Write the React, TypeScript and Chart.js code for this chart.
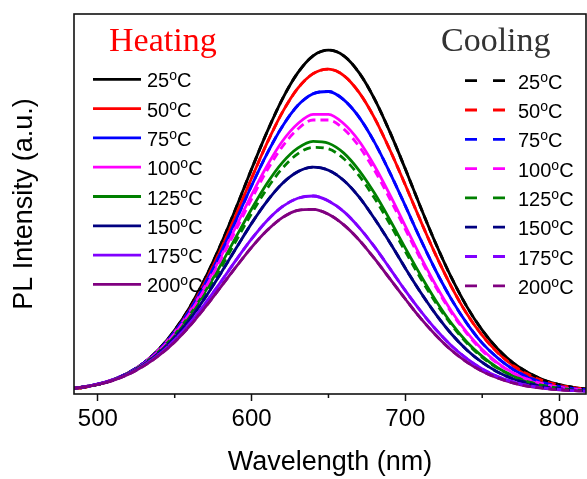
import React, { useEffect, useRef } from "react";
import { Chart, registerables } from "chart.js";

Chart.register(...registerables);

// Wavelength grid (nm)
const wavelengths = [
  480, 490, 500, 510, 520, 530, 540, 550, 560, 570, 580, 590, 600, 610, 620, 630, 640, 650,
  660, 670, 680, 690, 700, 710, 720, 730, 740, 750, 760, 770, 780, 790, 800, 810, 820,
];

const temperatures = ["25", "50", "75", "100", "125", "150", "175", "200"];
const colors = ["#000000", "#FF0000", "#0000FF", "#FF00FF", "#008000", "#000080", "#8000FF", "#800080"];

// Heating spectra (normalised PL intensity)
const heat25 = [0.012,0.017,0.025,0.037,0.056,0.082,0.119,0.168,0.230,0.306,0.394,0.491,0.592,0.689,0.776,0.845,0.890,0.905,0.890,0.845,0.776,0.689,0.592,0.491,0.394,0.306,0.230,0.168,0.119,0.082,0.056,0.037,0.025,0.017,0.012];
const heat50 = [0.012,0.017,0.025,0.037,0.055,0.081,0.117,0.164,0.224,0.297,0.381,0.473,0.568,0.660,0.741,0.804,0.843,0.855,0.838,0.793,0.726,0.642,0.550,0.455,0.364,0.282,0.211,0.154,0.109,0.075,0.051,0.034,0.023,0.016,0.012];
const heat75 = [0.013,0.018,0.025,0.038,0.056,0.082,0.117,0.164,0.222,0.292,0.372,0.459,0.548,0.632,0.704,0.759,0.790,0.796,0.774,0.728,0.662,0.582,0.495,0.406,0.323,0.249,0.186,0.134,0.095,0.065,0.044,0.030,0.020,0.014,0.011];
const heat100 = [0.013,0.018,0.026,0.038,0.056,0.082,0.117,0.162,0.218,0.285,0.361,0.442,0.524,0.600,0.665,0.711,0.736,0.736,0.711,0.665,0.600,0.524,0.442,0.361,0.285,0.218,0.162,0.117,0.082,0.056,0.038,0.026,0.018,0.013,0.010];
const heat125 = [0.013,0.018,0.026,0.038,0.055,0.080,0.113,0.156,0.209,0.271,0.340,0.414,0.487,0.554,0.609,0.647,0.665,0.660,0.634,0.588,0.528,0.458,0.384,0.312,0.245,0.186,0.137,0.099,0.069,0.048,0.032,0.022,0.016,0.012,0.009];
const heat150 = [0.013,0.018,0.026,0.037,0.054,0.077,0.109,0.149,0.198,0.255,0.318,0.384,0.449,0.507,0.554,0.585,0.597,0.589,0.562,0.518,0.461,0.398,0.331,0.267,0.209,0.158,0.116,0.083,0.058,0.040,0.028,0.019,0.014,0.010,0.008];
const heat175 = [0.013,0.018,0.026,0.037,0.053,0.076,0.105,0.143,0.187,0.239,0.295,0.353,0.408,0.456,0.493,0.515,0.521,0.508,0.480,0.438,0.387,0.330,0.272,0.218,0.169,0.127,0.093,0.066,0.046,0.032,0.022,0.016,0.012,0.009,0.008];
const heat200 = [0.013,0.018,0.025,0.036,0.052,0.074,0.102,0.137,0.180,0.229,0.282,0.335,0.386,0.430,0.464,0.483,0.486,0.473,0.445,0.405,0.356,0.303,0.250,0.199,0.154,0.115,0.084,0.060,0.042,0.029,0.020,0.015,0.011,0.009,0.008];

// Cooling spectra (dashed); most coincide with the heating curves
const cool25 = [0.012,0.017,0.025,0.037,0.056,0.082,0.119,0.168,0.230,0.306,0.394,0.491,0.592,0.689,0.776,0.845,0.890,0.905,0.890,0.845,0.776,0.689,0.592,0.491,0.394,0.306,0.230,0.168,0.119,0.082,0.056,0.037,0.025,0.017,0.012];
const cool50 = [0.012,0.017,0.025,0.037,0.055,0.081,0.117,0.164,0.224,0.297,0.381,0.473,0.568,0.660,0.741,0.804,0.843,0.855,0.838,0.793,0.726,0.642,0.550,0.455,0.364,0.282,0.211,0.154,0.109,0.075,0.051,0.034,0.023,0.016,0.012];
const cool75 = [0.013,0.018,0.025,0.038,0.056,0.082,0.117,0.164,0.222,0.292,0.372,0.459,0.548,0.632,0.704,0.759,0.790,0.796,0.774,0.728,0.662,0.582,0.495,0.406,0.323,0.249,0.186,0.134,0.095,0.065,0.044,0.030,0.020,0.014,0.011];
const cool100 = [0.013,0.018,0.026,0.038,0.055,0.080,0.114,0.159,0.214,0.280,0.354,0.433,0.513,0.588,0.651,0.697,0.721,0.721,0.697,0.651,0.588,0.513,0.433,0.354,0.280,0.214,0.159,0.114,0.080,0.055,0.038,0.026,0.018,0.013,0.010];
const cool125 = [0.013,0.018,0.025,0.037,0.054,0.078,0.110,0.152,0.204,0.264,0.332,0.404,0.475,0.540,0.594,0.632,0.649,0.645,0.619,0.574,0.515,0.447,0.375,0.304,0.239,0.182,0.134,0.096,0.068,0.047,0.032,0.022,0.015,0.011,0.009];
const cool150 = [0.013,0.018,0.026,0.037,0.054,0.077,0.109,0.149,0.198,0.255,0.318,0.384,0.449,0.507,0.554,0.585,0.597,0.589,0.562,0.518,0.461,0.398,0.331,0.267,0.209,0.158,0.116,0.083,0.058,0.040,0.028,0.019,0.014,0.010,0.008];
const cool175 = [0.013,0.018,0.026,0.037,0.053,0.076,0.105,0.143,0.187,0.239,0.295,0.353,0.408,0.456,0.493,0.515,0.521,0.508,0.480,0.438,0.387,0.330,0.272,0.218,0.169,0.127,0.093,0.066,0.046,0.032,0.022,0.016,0.012,0.009,0.008];
const cool200 = [0.013,0.018,0.025,0.036,0.052,0.074,0.102,0.137,0.180,0.229,0.282,0.335,0.386,0.430,0.464,0.483,0.486,0.473,0.445,0.405,0.356,0.303,0.250,0.199,0.154,0.115,0.084,0.060,0.042,0.029,0.020,0.015,0.011,0.009,0.008];

const heatingSeries = [heat25, heat50, heat75, heat100, heat125, heat150, heat175, heat200];
const coolingSeries = [cool25, cool50, cool75, cool100, cool125, cool150, cool175, cool200];

const xTickValues = [500, 550, 600, 650, 700, 750, 800];
const xLabelValues = [500, 600, 700, 800];

const SANS = "'Liberation Sans', Arial, sans-serif";
const SERIF = "'Liberation Serif', 'Times New Roman', serif";

function drawTempLabel(ctx: CanvasRenderingContext2D, t: string, x: number, baseline: number) {
  ctx.fillStyle = "#000";
  ctx.textAlign = "left";
  ctx.textBaseline = "alphabetic";
  ctx.font = `20px ${SANS}`;
  ctx.fillText(t, x, baseline);
  let cx = x + ctx.measureText(t).width;
  ctx.font = `14px ${SANS}`;
  ctx.fillText("o", cx, baseline - 7);
  cx += ctx.measureText("o").width;
  ctx.font = `20px ${SANS}`;
  ctx.fillText("C", cx, baseline);
}

const framePlugin = {
  id: "frameAndLegend",
  afterDatasetsDraw(chart: any) {
    const { ctx, chartArea } = chart;
    ctx.save();
    ctx.strokeStyle = "#111";
    ctx.lineWidth = 1.6;
    ctx.strokeRect(chartArea.left, chartArea.top, chartArea.right - chartArea.left, chartArea.bottom - chartArea.top);
    // minor ticks
    const xs = chart.scales.x;
    ctx.lineWidth = 1.5;
    xTickValues.forEach((v) => {
      if (xLabelValues.includes(v)) return;
      const px = xs.getPixelForValue(v);
      ctx.beginPath();
      ctx.moveTo(px, chartArea.bottom);
      ctx.lineTo(px, chartArea.bottom + 4);
      ctx.stroke();
    });
    ctx.restore();
  },
  afterDraw(chart: any) {
    const { ctx } = chart;
    ctx.save();
    ctx.textAlign = "left";
    ctx.textBaseline = "alphabetic";
    ctx.font = `34px ${SERIF}`;
    ctx.fillStyle = "#FF0000";
    ctx.fillText("Heating", 109, 51);
    ctx.fillStyle = "#333333";
    ctx.fillText("Cooling", 441, 51);

    temperatures.forEach((t, i) => {
      const yh = 79.3 + i * 29.3;
      ctx.strokeStyle = colors[i];
      ctx.lineWidth = 2.8;
      ctx.setLineDash([]);
      ctx.beginPath();
      ctx.moveTo(93, yh);
      ctx.lineTo(141, yh);
      ctx.stroke();
      drawTempLabel(ctx, t, 147, yh + 8);

      const yc = 80.7 + i * 29.3;
      ctx.strokeStyle = colors[i];
      ctx.setLineDash([12, 16]);
      ctx.beginPath();
      ctx.moveTo(465, yc);
      ctx.lineTo(505, yc);
      ctx.stroke();
      ctx.setLineDash([]);
      drawTempLabel(ctx, t, 518, yc + 8);
    });
    ctx.restore();
  },
};

export default function App() {
  const canvasRef = useRef<HTMLCanvasElement | null>(null);

  useEffect(() => {
    if (!canvasRef.current) return;
    const toPoints = (arr: number[]) => wavelengths.map((w, i) => ({ x: w, y: arr[i] }));
    const drawOrder: any[] = [];
    heatingSeries.forEach((s, i) =>
      drawOrder.push({
        label: `Heating ${temperatures[i]}`,
        data: toPoints(s),
        borderColor: colors[i],
        borderWidth: 2.8,
        pointRadius: 0,
        fill: false,
        cubicInterpolationMode: "monotone",
      })
    );
    coolingSeries.forEach((s, i) =>
      drawOrder.push({
        label: `Cooling ${temperatures[i]}`,
        data: toPoints(s),
        borderColor: colors[i],
        borderWidth: 2.8,
        borderDash: [8, 5],
        pointRadius: 0,
        fill: false,
        cubicInterpolationMode: "monotone",
      })
    );
    // Chart.js paints dataset 0 last (on top), so reverse the paint order.
    const datasets = drawOrder.slice().reverse();

    const chart = new Chart(canvasRef.current, {
      type: "line",
      data: { datasets },
      plugins: [framePlugin],
      options: {
        animation: false,
        responsive: false,
        layout: { padding: { left: 0, right: 1, top: 14, bottom: 0 } },
        plugins: { legend: { display: false }, tooltip: { enabled: false } },
        scales: {
          x: {
            type: "linear",
            min: 484.5,
            max: 817.5,
            afterBuildTicks: (scale: any) => {
              scale.ticks = xTickValues.map((v) => ({ value: v }));
            },
            afterFit: (scale: any) => {
              scale.height = 85;
            },
            ticks: {
              autoSkip: false,
              maxRotation: 0,
              padding: 4,
              color: "#000",
              font: { family: SANS, size: 24 },
              callback: (v: any) => (xLabelValues.includes(Number(v)) ? String(v) : ""),
            },
            grid: {
              display: true,
              drawOnChartArea: false,
              drawTicks: true,
              tickLength: 7,
              tickWidth: 1.5,
              tickColor: (c: any) => (c.tick && xLabelValues.includes(c.tick.value) ? "#111" : "rgba(0,0,0,0)"),
            },
            border: { display: false },
            title: {
              display: true,
              text: "Wavelength (nm)",
              color: "#000",
              font: { family: SANS, size: 27 },
              padding: { top: 0, bottom: 0 },
            },
          },
          y: {
            type: "linear",
            min: 0,
            max: 1,
            afterFit: (scale: any) => {
              scale.width = 74;
            },
            ticks: { display: false },
            grid: { display: false },
            border: { display: false },
            title: {
              display: true,
              text: "PL Intensity (a.u.)",
              color: "#000",
              font: { family: SANS, size: 27 },
              padding: { top: 8, bottom: 0 },
            },
          },
        },
      } as any,
    });
    return () => chart.destroy();
  }, []);

  return (
    <div style={{ position: "fixed", left: 0, top: 0, width: 587, height: 479, background: "#fff" }}>
      <canvas ref={canvasRef} width={587} height={479} style={{ display: "block" }} />
    </div>
  );
}
